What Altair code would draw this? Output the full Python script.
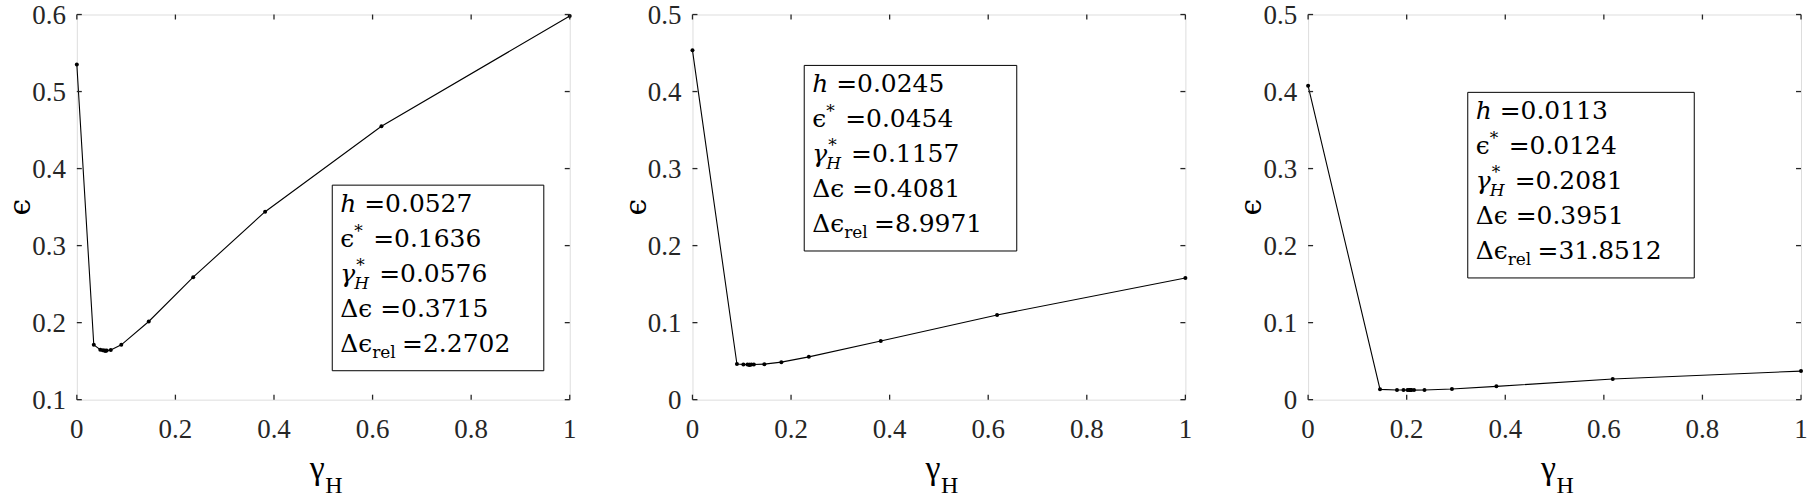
import altair as alt
import pandas as pd

# ---------------- data ----------------
gamma_1 = [0.0, 0.0344, 0.0476, 0.0526, 0.0557, 0.0576, 0.0588, 0.0607, 0.0689, 0.0902, 0.1459, 0.2361, 0.382, 0.618, 1.0]
eps_1 = [0.5351, 0.1712, 0.1648, 0.1640, 0.1637, 0.1636, 0.1636, 0.1637, 0.1645, 0.1712, 0.2015, 0.2590, 0.3440, 0.4550, 0.5980]

gamma_2 = [0.0, 0.0902, 0.1033, 0.1115, 0.1147, 0.1157, 0.1166, 0.1196, 0.1246, 0.1459, 0.1803, 0.2361, 0.382, 0.618, 1.0]
eps_2 = [0.4535, 0.0462, 0.0458, 0.0455, 0.0454, 0.0454, 0.0454, 0.0455, 0.0457, 0.0461, 0.0487, 0.0556, 0.0762, 0.1100, 0.1580]

gamma_3 = [0.0, 0.1459, 0.1803, 0.1935, 0.2016, 0.2049, 0.2066, 0.2081, 0.2098, 0.2149, 0.2361, 0.2918, 0.382, 0.618, 1.0]
eps_3 = [0.4075, 0.0134, 0.0126, 0.0125, 0.0124, 0.0124, 0.0124, 0.0124, 0.0124, 0.0124, 0.0126, 0.0138, 0.0173, 0.0268, 0.0371]

x_ticks = [0, 0.2, 0.4, 0.6, 0.8, 1.0]
y_ticks_1 = [0.1, 0.2, 0.3, 0.4, 0.5, 0.6]
y_ticks_23 = [0, 0.1, 0.2, 0.3, 0.4, 0.5]

h_vals = ["0.0527", "0.0245", "0.0113"]
eps_star = ["0.1636", "0.0454", "0.0124"]
gamma_star = ["0.0576", "0.1157", "0.2081"]
d_eps = ["0.3715", "0.4081", "0.3951"]
d_eps_rel = ["2.2702", "8.9971", "31.8512"]

# ---------------- layout / style ----------------
W, H = 494, 386
AX = "#262626"
TICK_FONT = "'Liberation Serif', 'Times New Roman', serif"
BOX_FONT = "'DejaVu Serif', serif"
BOX_FS = 25
SUB_FS = 17
LINE_GAP = 35
BOX_H = 186
box_layout = [(256, 171, 212), (112, 51, 213), (160, 78, 227)]


def one():
    return alt.Chart(pd.DataFrame({"k": [0]}))


def txt(text, x, y, size, font=BOX_FONT, style="normal", align="left", baseline="alphabetic", angle=0):
    kw = dict(text=text, align=align, baseline=baseline, font=font, fontSize=size,
              fontStyle=style, color="black")
    if angle:
        kw["angle"] = angle
    return one().mark_text(**kw).encode(x=alt.value(x), y=alt.value(y))


def panel(i, g, e, ydom, yticks, spacer=False):
    xs = alt.Scale(domain=[0, 1], nice=False, zero=False)
    ys = alt.Scale(domain=ydom, nice=False, zero=False)
    df = pd.DataFrame({"g": g, "e": e})

    line = alt.Chart(df).mark_line(
        color="black", strokeWidth=1.1,
        point=alt.OverlayMarkDef(filled=True, fill="black", color="black", size=16),
    ).encode(
        x=alt.X("g:Q", scale=xs, axis=None),
        y=alt.Y("e:Q", scale=ys, axis=None),
    )

    xt = alt.Chart(pd.DataFrame({"t": x_ticks}))
    yt = alt.Chart(pd.DataFrame({"t": yticks}))
    rule = dict(color=AX, strokeWidth=1.3)
    xb = xt.mark_rule(**rule).encode(x=alt.X("t:Q", scale=xs, axis=None), y=alt.value(H), y2=alt.value(H - 5))
    xtp = xt.mark_rule(**rule).encode(x=alt.X("t:Q", scale=xs, axis=None), y=alt.value(0), y2=alt.value(5))
    yl = yt.mark_rule(**rule).encode(y=alt.Y("t:Q", scale=ys, axis=None), x=alt.value(0), x2=alt.value(5))
    yr = yt.mark_rule(**rule).encode(y=alt.Y("t:Q", scale=ys, axis=None), x=alt.value(W), x2=alt.value(W - 5))

    xlab = xt.mark_text(font=TICK_FONT, fontSize=27, color=AX, align="center", baseline="alphabetic").encode(
        x=alt.X("t:Q", scale=xs, axis=None), y=alt.value(H + 38), text=alt.Text("t:Q", format="~g"))
    ylab = yt.mark_text(font=TICK_FONT, fontSize=27, color=AX, align="right", baseline="middle", dy=1).encode(
        y=alt.Y("t:Q", scale=ys, axis=None), x=alt.value(-11), text=alt.Text("t:Q", format="~g"))

    bx, by, bw = box_layout[i]
    box = one().mark_rect(fill="white", stroke="black", strokeWidth=1).encode(
        x=alt.value(bx), x2=alt.value(bx + bw), y=alt.value(by), y2=alt.value(by + BOX_H))
    tx = bx + 8
    b = [by + 27 + LINE_GAP * k for k in range(5)]
    parts = [
        txt("h", tx, b[0], BOX_FS, style="italic"),
        txt("=" + h_vals[i], tx + 24, b[0], BOX_FS),
        txt("ϵ", tx, b[1], BOX_FS),
        txt("*", tx + 14, b[1] - 10, SUB_FS),
        txt("=" + eps_star[i], tx + 33, b[1], BOX_FS),
        txt("γ", tx, b[2], BOX_FS, style="italic"),
        txt("*", tx + 16, b[2] - 11, SUB_FS),
        txt("H", tx + 14, b[2] + 7, SUB_FS, style="italic"),
        txt("=" + gamma_star[i], tx + 39, b[2], BOX_FS),
        txt("Δϵ", tx, b[3], BOX_FS),
        txt("=" + d_eps[i], tx + 40, b[3], BOX_FS),
        txt("Δϵ", tx, b[4], BOX_FS),
        txt("rel", tx + 32, b[4] + 6, SUB_FS),
        txt("=" + d_eps_rel[i], tx + 62, b[4], BOX_FS),
    ]

    titles = [
        txt("ϵ", -56, H / 2, 30, font=BOX_FONT, align="center", baseline="middle", angle=270),
        txt("γ", W / 2 - 6, 466, 34, font=TICK_FONT, align="center"),
        txt("H", W / 2 + 2, 480, 24, font=TICK_FONT),
    ]

    layers = [line, xb, xtp, yl, yr, xlab, ylab, box] + parts + titles
    if spacer:
        layers.append(one().mark_rect(opacity=0).encode(
            x=alt.value(-76), x2=alt.value(-70), y=alt.value(-12), y2=alt.value(-6)))
    return alt.layer(*layers).properties(width=W, height=H)


p1 = panel(0, gamma_1, eps_1, [0.1, 0.6], y_ticks_1, spacer=True)
p2 = panel(1, gamma_2, eps_2, [0, 0.5], y_ticks_23)
p3 = panel(2, gamma_3, eps_3, [0, 0.5], y_ticks_23)

chart = alt.hconcat(p1, p2, p3, spacing=123, bounds="flush").properties(
    padding={"left": 0, "top": 0, "right": 0, "bottom": 0}
).configure_view(stroke=AX, strokeWidth=1.3).configure(background="white")

chart.save("out.html", embed_options={"renderer": "svg", "actions": False})
